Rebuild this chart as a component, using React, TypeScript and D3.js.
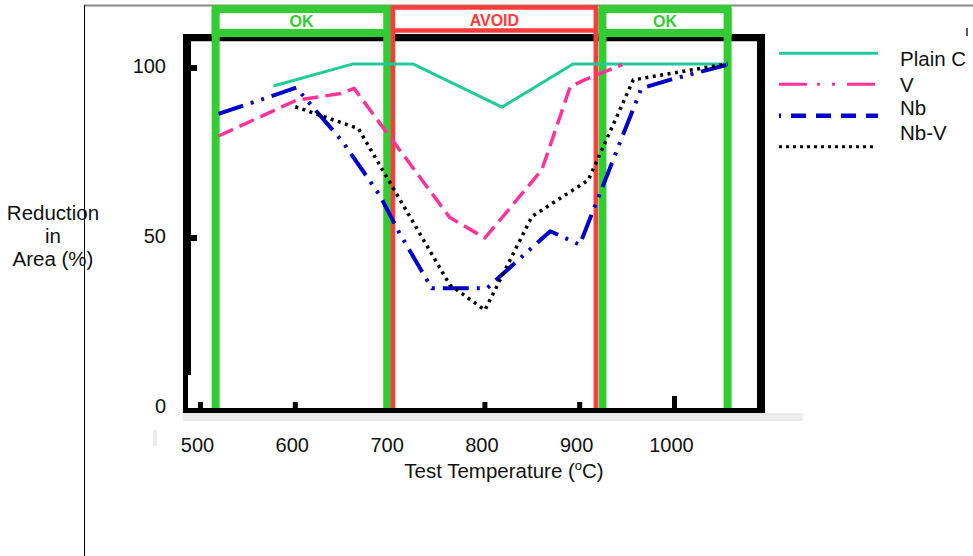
import React from "react";
import * as d3 from "d3";

// Test temperature (°C) vs reduction in area (%) for four steel grades
const plainC: [number, number][] = [
  [577, 94.7], [661, 101.2], [724, 101.2], [818, 88.5], [893, 101.2], [1056, 101.2],
];
const vanadium: [number, number][] = [
  [519, 80], [601, 90.5], [648, 92.5], [662, 94], [763, 56], [800, 50],
  [860, 70], [890, 94.5], [905, 96.5], [945, 101],
];
const niobium: [number, number][] = [
  [519, 86.5], [601, 94.2], [650, 78.3], [689, 62.6], [710, 51.4], [744, 35.2],
  [802, 35.2], [869, 52], [900, 48], [965, 94], [995, 96.5], [1056, 101],
];
const niobiumVanadium: [number, number][] = [
  [600, 88.6], [666.5, 82.2], [763, 36.2], [800, 28.8], [849.5, 56.3],
  [909, 67], [956.5, 96.5], [1056, 101.2],
];

const seriesNames = ["Plain C", "V", "Nb", "Nb-V"];
const xTicks = [500, 600, 700, 800, 900, 1000];
const yTicks = [0, 50, 100];

// Temperature windows
const okWindows: [number, number][] = [[516, 697], [924, 1056]];
const avoidWindow: [number, number] = [703, 917];
const okLabel = "OK";
const avoidLabel = "AVOID";

const FONT = "'Liberation Sans', Arial, Helvetica, sans-serif";
const GREEN = "#33cc33";
const RED = "#ff3b3b";

const x = d3.scaleLinear().domain([500, 1000]).range([200.5, 674.5]);
const y = d3.scaleLinear().domain([0, 100]).range([408, 68]);

const line = d3
  .line<[number, number]>()
  .x((d) => x(d[0]))
  .y((d) => y(d[1]));

const styles = [
  { color: "#1fcc99", width: 3, dash: undefined as string | undefined, legendDash: undefined as string | undefined, legendOffset: 0, legendWidth: 3 },
  { color: "#ff3399", width: 3.5, dash: "16,7", legendDash: "28,10,3,12,3,12", legendOffset: 0, legendWidth: 3 },
  { color: "#0000cc", width: 4, dash: "26,8,3,8,3,8", legendDash: "15,10", legendOffset: 13, legendWidth: 4.5 },
  { color: "#000000", width: 3.5, dash: "3,4.5", legendDash: "3,4", legendOffset: 0, legendWidth: 3 },
];
const seriesData = [plainC, vanadium, niobium, niobiumVanadium];

export default function App() {
  const frame = { left: 183, top: 34, right: 765, bottom: 413 };
  const boxTop = 9;
  const boxBottom = 33;

  return (
    <svg
      width={973}
      height={556}
      style={{ position: "absolute", left: 0, top: 0, background: "#fff" }}
      fontFamily={FONT}
    >
      {/* page rules */}
      <line x1={84} x2={973} y1={5.5} y2={5.5} stroke="#8a8a8a" strokeWidth={2} />
      <line x1={84.5} x2={84.5} y1={5} y2={556} stroke="#000" strokeWidth={1} />
      <line x1={967} x2={967} y1={28} y2={36} stroke="#222" strokeWidth={1.5} />

      {/* frame shadow */}
      <rect x={frame.left} y={frame.bottom} width={620} height={8} fill="#ececec" />
      <rect x={153} y={430} width={4} height={16} fill="#ededed" />

      {/* plot frame */}
      <rect x={frame.left} y={frame.top} width={frame.right - frame.left} height={7} fill="#000" />
      <line x1={frame.left + 8} x2={frame.right - 8} y1={frame.top + 7.5} y2={frame.top + 7.5} stroke="#bbb" strokeWidth={1} />
      <rect x={frame.left} y={frame.top} width={8} height={375 - frame.top} fill="#000" />
      <rect x={frame.left} y={375} width={5} height={frame.bottom - 375} fill="#000" />
      <rect x={frame.right - 8} y={frame.top} width={8} height={frame.bottom - frame.top} fill="#000" />
      <rect x={frame.left} y={408} width={frame.right - frame.left} height={frame.bottom - 408} fill="#000" />

      {/* y ticks */}
      {yTicks.filter((t) => t > 0).map((t) => (
        <rect key={`yt${t}`} x={190} y={y(t) - 3} width={7} height={6} fill="#000" />
      ))}
      {/* x ticks */}
      {xTicks.map((t) => (
        <rect
          key={`xt${t}`}
          x={x(t) - 2.5}
          y={408 - (t === 1000 ? 12 : 6)}
          width={5}
          height={t === 1000 ? 12 : 6}
          fill="#000"
        />
      ))}

      {/* window markers */}
      {okWindows.map(([a, b], i) => (
        <g key={`ok${i}`}>
          <line x1={x(a)} x2={x(a)} y1={boxTop} y2={408} stroke={GREEN} strokeWidth={8} />
          <line x1={x(b)} x2={x(b)} y1={boxTop} y2={408} stroke={GREEN} strokeWidth={8} />
          <rect
            x={x(a)}
            y={boxTop}
            width={x(b) - x(a)}
            height={boxBottom - boxTop}
            fill="#fff"
            stroke={GREEN}
            strokeWidth={8}
          />
          <text
            x={(x(a) + x(b)) / 2}
            y={26.5}
            textAnchor="middle"
            fontSize={16}
            fontWeight="bold"
            fill={GREEN}
          >
            {okLabel}
          </text>
        </g>
      ))}
      <g>
        <line x1={x(avoidWindow[0])} x2={x(avoidWindow[0])} y1={7.5} y2={408} stroke={RED} strokeWidth={4.5} />
        <line x1={x(avoidWindow[1])} x2={x(avoidWindow[1])} y1={7.5} y2={408} stroke={RED} strokeWidth={4.5} />
        <rect
          x={x(avoidWindow[0])}
          y={7.5}
          width={x(avoidWindow[1]) - x(avoidWindow[0])}
          height={23}
          fill="#fff"
          stroke={RED}
          strokeWidth={4.5}
        />
        <text
          x={(x(avoidWindow[0]) + x(avoidWindow[1])) / 2}
          y={26}
          textAnchor="middle"
          fontSize={16}
          fontWeight="bold"
          fill={RED}
        >
          {avoidLabel}
        </text>
      </g>

      {/* data series */}
      {seriesData.map((d, i) => (
        <path
          key={seriesNames[i]}
          d={line(d) ?? ""}
          fill="none"
          stroke={styles[i].color}
          strokeWidth={styles[i].width}
          strokeDasharray={styles[i].dash}
          strokeLinejoin="round"
        />
      ))}

      {/* tick labels */}
      {yTicks.map((t) => (
        <text key={`yl${t}`} x={166} y={y(t) + 5} textAnchor="end" fontSize={20} fill="#111">
          {t}
        </text>
      ))}
      {xTicks.map((t) => (
        <text key={`xl${t}`} x={x(t) - 3} y={452} textAnchor="middle" fontSize={20} fill="#111">
          {t}
        </text>
      ))}

      {/* axis titles */}
      <text x={53} textAnchor="middle" fontSize={20.5} fill="#111">
        <tspan x={53} y={219.5}>Reduction</tspan>
        <tspan x={53} y={243}>in</tspan>
        <tspan x={53} y={266}>Area (%)</tspan>
      </text>
      <text x={504} y={478} textAnchor="middle" fontSize={20.5} fill="#111">
        Test Temperature (
        <tspan fontSize={13} dy={-8}>o</tspan>
        <tspan dy={8}>C)</tspan>
      </text>

      {/* legend */}
      {seriesNames.map((name, i) => {
        const ly = [53.3, 84.3, 115.7, 146.7][i];
        const ty = [66, 91.7, 115, 140][i];
        return (
          <g key={`lg${name}`}>
            <line
              x1={779}
              x2={i === 3 ? 873 : 878}
              y1={ly}
              y2={ly}
              stroke={styles[i].color}
              strokeWidth={styles[i].legendWidth}
              strokeDasharray={styles[i].legendDash}
              strokeDashoffset={styles[i].legendOffset}
            />
            <text x={900} y={ty} fontSize={20.5} fill="#111">
              {name}
            </text>
          </g>
        );
      })}
    </svg>
  );
}
